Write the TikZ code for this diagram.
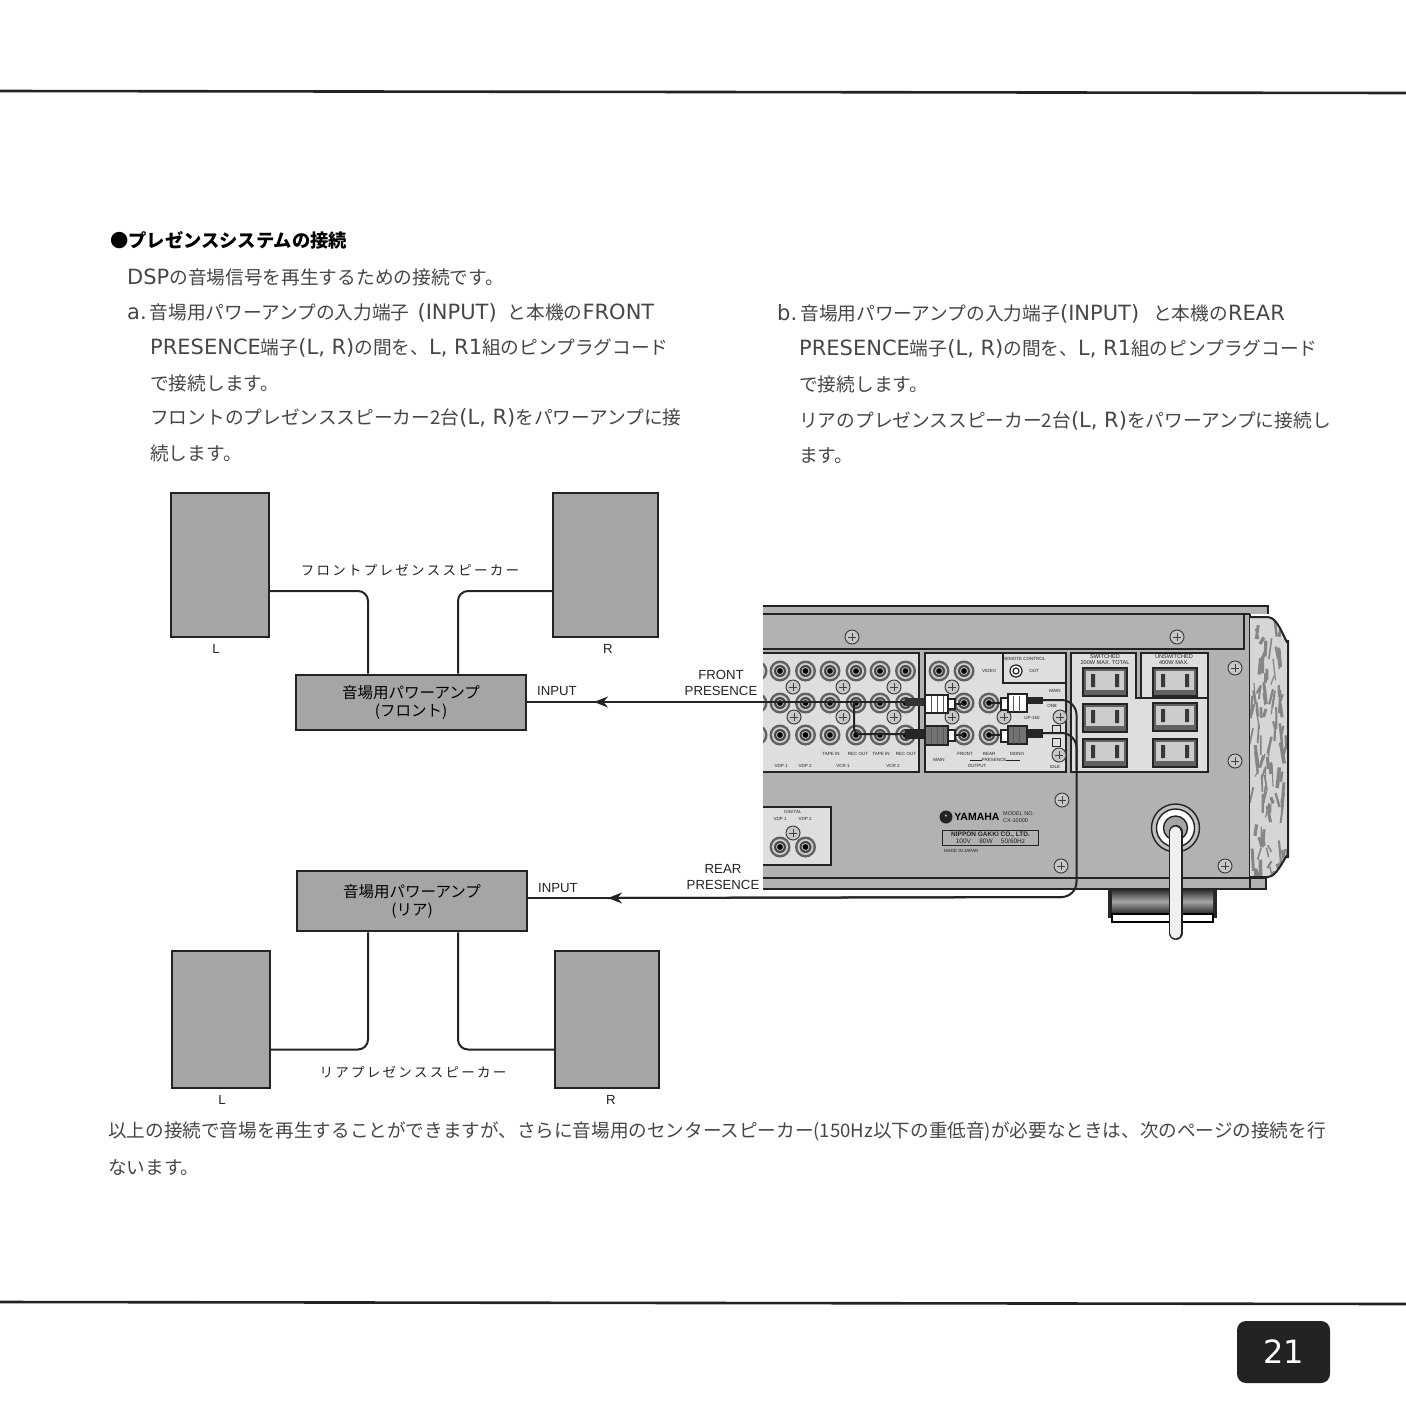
\documentclass[tikz,border=0pt]{standalone}
\usepackage{fontspec}
\setmainfont{Noto Sans CJK JP}
\setsansfont{Liberation Sans}
\newfontfamily\latfont{DejaVu Sans}
\newcommand{\lat}[1]{{\latfont\fontsize{21}{21}\selectfont #1}}
\usepackage{tikz}
\usetikzlibrary{
  arrows.meta,
  positioning,
  calc
}
\definecolor{inkgray}{RGB}{70,70,70}
\definecolor{boxgray}{RGB}{165,165,165}
\definecolor{bodygray}{RGB}{178,178,178}
\definecolor{panelgray}{RGB}{222,222,222}
\definecolor{inkdark}{RGB}{35,35,35}

\begin{document}
\begin{tikzpicture}[
  x=1pt, y=-1pt,
  bodytext/.style={anchor=west, inner sep=0pt, text=inkgray, font=\fontsize{18.7}{18.7}\selectfont},
  headtext/.style={anchor=west, inner sep=0pt, text=black, font=\bfseries\fontsize{18.3}{18.3}\selectfont},
  spk/.style={draw=inkdark, line width=2.4pt, fill=boxgray, inner sep=0pt},
  ampbox/.style={
    draw=inkdark, line width=2.8pt, fill=boxgray, inner sep=0pt,
    minimum width=230, align=center,
    font=\fontsize{15.5}{18}\selectfont
  },
  caption/.style={inner sep=0pt, text=inkdark, font=\fontsize{13.5}{13.5}\selectfont},
  sflabel/.style={inner sep=0pt, align=center, text=inkdark, font=\sffamily\fontsize{13.2}{16.5}\selectfont},
  tinylabel/.style={inner sep=0pt, align=center, text=inkdark, font=\sffamily\fontsize{4.5}{6}\selectfont},
  outletlabel/.style={inner sep=0pt, align=center, text=inkdark, font=\sffamily\fontsize{5.6}{6}\selectfont},
  wire/.style={line width=2pt, inkdark, rounded corners=10},
  arr/.style={-{Stealth[length=14pt, width=11pt]}, line width=2pt, inkdark},
  rule/.style={line width=2.6pt, inkdark},
  edge/.style={line width=1.4pt, inkdark},
  jack/.pic={
    \fill[black!62] (0,0) circle (10.5);
    \fill[black!20] (0,0) circle (8);
    \fill[black!72] (0,0) circle (6);
    \fill[black!30] (0,0) circle (4);
    \fill[black] (0,0) circle (2.8);
  },
  screw/.pic={
    \draw[line width=1pt, black!75, fill=black!22] (0,0) circle (7);
    \draw[line width=0.9pt, black!75] (-4,0) -- (4,0) (0,-4) -- (0,4);
  },
  outlet/.pic={
    \draw[line width=1.4pt, inkdark, fill=black!62] (-22,-14) rectangle (22,14);
    \fill[black!20] (-19,-11) rectangle (19,8);
    \fill[black!78] (-14,-8) rectangle (-10,5) (10,-8) rectangle (14,5);
  },
]
\useasboundingbox (0,0) rectangle (1406,1406);

% page rules and page number
\coordinate (ruleTL) at (0,91);
\coordinate (ruleTR) at (1406,93);
\coordinate (ruleBL) at (0,1302);
\coordinate (ruleBR) at (1406,1304);
\draw[rule] (ruleTL) -- (ruleTR);
\draw[rule] (ruleBL) -- (ruleBR);
\node[fill=inkdark, rounded corners=9pt, minimum width=93, minimum height=62, inner sep=0pt,
      text=white, font=\latfont\fontsize{32}{32}\selectfont] (pageno) at (1283.5,1352) {21};

% text
\node[headtext] (head) at (110,240) {●プレゼンスシステムの接続};
\node[bodytext] (intro) at (127,277) {\lat{DSP}の音場信号を再生するための接続です。};
\node[bodytext] (a1) at (127,313) {\lat{a.}\,音場用パワーアンプの入力端子\hspace{8pt}\lat{(INPUT)}\hspace{11pt}と本機の\lat{FRONT}};
\node[bodytext] (a2) at (150,348) {\lat{PRESENCE}端子\lat{(L, R)}の間を、\lat{L, R1}組のピンプラグコード};
\node[bodytext] (a3) at (150,383) {で接続します。};
\node[bodytext] (a4) at (150,418) {フロントのプレゼンススピーカー2台\lat{(L, R)}をパワーアンプに接};
\node[bodytext] (a5) at (150,453) {続します。};
\node[bodytext] (b1) at (777,314) {\lat{b.}\,音場用パワーアンプの入力端子\lat{(INPUT)}\hspace{14pt}と本機の\lat{REAR}};
\node[bodytext] (b2) at (799,349) {\lat{PRESENCE}端子\lat{(L, R)}の間を、\lat{L, R1}組のピンプラグコード};
\node[bodytext] (b3) at (799,384) {で接続します。};
\node[bodytext] (b4) at (799,421) {リアのプレゼンススピーカー2台\lat{(L, R)}をパワーアンプに接続し};
\node[bodytext] (b5) at (799,456) {ます。};
\node[bodytext, font=\fontsize{18.6}{18.6}\selectfont] (foot1) at (108,1131) {以上の接続で音場を再生することができますが、さらに音場用のセンタースピーカー(150Hz以下の重低音)が必要なときは、次のページの接続を行};
\node[bodytext, font=\fontsize{18.6}{18.6}\selectfont] (foot2) at (108,1168) {ないます。};

% speakers and amps
\node[spk, minimum width=98, minimum height=144] (spkFL) at (220,565) {};
\node[spk, minimum width=105, minimum height=144] (spkFR) at (605.5,565) {};
\node[spk, minimum width=98, minimum height=137] (spkRL) at (221,1019.5) {};
\node[spk, minimum width=104, minimum height=137] (spkRR) at (607,1019.5) {};
\node[ampbox, minimum height=55] (ampfront) at (411,702.5) {音場用パワーアンプ\\(フロント)};
\node[ampbox, minimum height=60] (amprear) at (412,901) {音場用パワーアンプ\\(リア)};

\node[caption] (capF) at (410,570) {フ\,ロ\,ン\,ト\,プ\,レ\,ゼ\,ン\,ス\,ス\,ピ\,ー\,カ\,ー};
\node[caption] (capR) at (413,1072) {リ\,ア\,プ\,レ\,ゼ\,ン\,ス\,ス\,ピ\,ー\,カ\,ー};
\node[sflabel] (lblFL) at (216,649) {L};
\node[sflabel] (lblFR) at (608,649) {R};
\node[sflabel] (lblRL) at (222,1100) {L};
\node[sflabel] (lblRR) at (611,1100) {R};
\node[sflabel] (inF) at (557,691) {INPUT};
\node[sflabel] (inR) at (558,888) {INPUT};
\node[sflabel] (outF) at (721,683) {FRONT\\PRESENCE};
\node[sflabel] (outR) at (723,877) {REAR\\PRESENCE};

\draw[wire] ([yshift=-26pt]spkFL.east) -| ([xshift=-43pt]ampfront.north);
\draw[wire] ([yshift=-26pt]spkFR.west) -| ([xshift=47pt]ampfront.north);
\draw[wire] ([yshift=-30pt]spkRL.east) -| ([xshift=-44pt]amprear.south);
\draw[wire] ([yshift=-30pt]spkRR.west) -| ([xshift=46pt]amprear.south);

% rear panel of the unit
\fill[black!85] (1108,885) rectangle (1217,918);
\shade[top color=black!85, bottom color=black!85, middle color=black!35] (1112,889) rectangle (1213,914);
\draw[line width=2pt, black, fill=white] (1112,914) rectangle (1213,922);
\fill[bodygray] (763,605) rectangle (1268,614);
\fill[bodygray] (763,614) rectangle (1250,878);
\fill[bodygray] (763,878) rectangle (1266,889);
\draw[edge] (763,606) -- (1268,606) -- (1268,614) (763,614) -- (1250,614);
\draw[edge] (763,649) -- (1244,649) -- (1244,614);
\draw[edge] (1250,614) -- (1250,889);
\draw[edge] (763,878) -- (1250,878);
\draw[line width=2pt, inkdark] (763,889) -- (1266,889) -- (1266,878) -- (1250,878);

% side panel
\begin{scope}
  \path[clip] (1250,617) -- (1268,617) to[out=0,in=-90] (1288,640) -- (1288,858) to[out=90,in=0] (1268,877) -- (1250,877) -- cycle;
  \fill[black!16] (1250,617) rectangle (1288,877);
  \pgfmathsetseed{21}
  \foreach \n in {1,...,110} {
    \pgfmathsetmacro{\sx}{1252+rnd*34}
    \pgfmathsetmacro{\sy}{617+rnd*255}
    \pgfmathsetmacro{\sl}{6+rnd*18}
    \pgfmathsetmacro{\sd}{-4+rnd*8}
    \pgfmathsetmacro{\sw}{1+rnd*2.5}
    \draw[line width=\sw pt, black!48] (\sx,\sy) -- ++(\sd,\sl);
  }
\end{scope}
\draw[line width=2pt, inkdark] (1250,617) -- (1268,617) to[out=0,in=-90] (1288,640) -- (1288,858) to[out=90,in=0] (1268,877) -- (1250,877);

% terminal panels
\draw[edge, fill=panelgray] (763,653) -- (919,653) -- (919,772) -- (763,772);
\draw[edge, fill=panelgray] (925,653) rectangle (1066,772);
\draw[edge, fill=panelgray] (1003,653) rectangle (1066,683);
\draw[edge, fill=panelgray] (1071,653) -- (1136,653) -- (1136,698) -- (1208,698) -- (1208,772) -- (1071,772) -- cycle;
\draw[edge, fill=panelgray] (1141,653) rectangle (1208,698);
\draw[edge, fill=panelgray] (763,807) -- (831,807) -- (831,865) -- (763,865);

\foreach \y in {671,703,735} {
  \foreach \x in {780,805.5,830,856,880,905.5} {
    \pic at (\x,\y) {jack};
  }
}
\foreach \y in {671,703,735} {
  \begin{scope}
    \clip (763,653) rectangle (780,772);
    \pic at (757,\y) {jack};
  \end{scope}
}
\foreach \x/\y in {939/671,964/671,964/703,964/735,989/703,989/735,780/847,805.5/847} {
  \pic at (\x,\y) {jack};
}
\foreach \x/\y in {793/687,843/687,894/687,794/717,843/717,894/717,952/687,952/717,1004/717,
                   1060/717,1059/755,793/833,852/637,1177/637,1235/668,1235/761,1062/800,1061/866,1225/866} {
  \pic at (\x,\y) {screw};
}
\foreach \x/\y in {1105/682,1105/718,1105/753,1175/682,1175/717,1175/753} {
  \pic at (\x,\y) {outlet};
}
\draw[line width=1.2pt, inkdark, fill=white] (1016,671) circle (6);
\draw[line width=1.2pt, inkdark] (1016,671) circle (3);
\draw[line width=1pt, inkdark, fill=panelgray] (1052,725) rectangle (1060,733) (1052,738) rectangle (1060,746);
\draw[line width=0.8pt, inkdark] (970,760) -- (982,760) (1006,760) -- (1020,760);

\foreach \x/\y/\t in {831/754/TAPE IN,858/754/REC OUT,881/754/TAPE IN,906/754/REC OUT,
                      781/766/VDP 1,805/766/VDP 2,843/766/VCR 1,893/766/VCR 2,
                      939/760/MAIN,965/754/FRONT,989/754/REAR,1017/754/MONO,994/760/PRESENCE,977/766/OUTPUT,
                      989/671/VIDEO,1024/659/REMOTE CONTROL,1034/671/OUT,1055/691/MAIN,1052/706/ON8,1032/718/UP-150,1055/767/IDLE,
                      793/812/DIGITAL,780/819/VDP 1,805/819/VDP 2} {
  \node[tinylabel] at (\x,\y) {\t};
}
\foreach \x/\y/\t in {1105/657/SWITCHED,1105/663/200W MAX. TOTAL,1174/657/UNSWITCHED,1174/663/400W MAX.} {
  \node[outletlabel] at (\x,\y) {\t};
}

% maker plate
\node[circle, fill=inkdark, minimum size=13, inner sep=0pt, text=white, font=\sffamily\fontsize{7}{7}\selectfont] (logo) at (946,817) {*};
\node[right=1.5pt of logo, inner sep=0pt, text=black, font=\sffamily\bfseries\fontsize{10.5}{10.5}\selectfont] (brand) {YAMAHA};
\node[inner sep=0pt, anchor=west, align=left, text=inkdark, font=\sffamily\fontsize{5.5}{6.2}\selectfont] (model) at (1003,817) {MODEL NO.\\CX-10000};
\node[draw=inkdark, line width=1pt, inner sep=1.2pt, minimum width=96, align=center, text=inkdark, font=\sffamily\fontsize{6.5}{7.5}\selectfont] (plate) at (990.5,838) {\textbf{NIPPON GAKKI CO., LTD.}\\100V \quad 80W \quad 50/60Hz};
\node[tinylabel, anchor=north west] (origin) at (944,849) {MADE IN JAPAN};

% power cord
\draw[line width=1.4pt, inkdark, fill=black!25] (1175.5,828) circle (24);
\draw[line width=1.4pt, inkdark, fill=white] (1175.5,828) circle (19);
\draw[line width=1.4pt, inkdark, fill=black!35] (1175.5,828) circle (12);
\draw[line width=14pt, inkdark, line cap=round] (1175.5,832) -- (1175.5,933);
\draw[line width=11pt, black!6, line cap=round] (1175.5,832) -- (1175.5,933);

% plugs on the output jacks
\coordinate (tapFront) at (905,702);
\coordinate (tapFrontB) at (905,734);
\coordinate (plugL) at (1043,700);
\coordinate (plugR) at (1043,733);
\coordinate (bendR) at (1076.5,897);
\fill[black!80] (905,698) rectangle (925,706);
\draw[line width=1.2pt, inkdark, fill=white] (925,695) rectangle (948,713);
\draw[line width=1.2pt, inkdark, fill=white] (948,699) rectangle (955,709);
\draw[line width=2pt, inkdark] (955,704) -- (964,704);
\fill[black!85] (905,729) rectangle (925,739);
\draw[line width=1.2pt, inkdark, fill=black!55] (925,726) rectangle (948,745);
\draw[line width=1.2pt, inkdark, fill=white] (948,730) rectangle (955,741);
\draw[line width=2pt, inkdark] (955,735) -- (964,735);
\draw[line width=2pt, inkdark] (991,703) -- (1001,703);
\draw[line width=1.2pt, inkdark, fill=white] (1001,698) rectangle (1008,710);
\draw[line width=1.2pt, inkdark, fill=white] (1008,694) rectangle (1027,712);
\fill[black!85] (1027,697) rectangle (1043,704);
\draw[line width=2pt, inkdark] (991,735) -- (1001,735);
\draw[line width=1.2pt, inkdark, fill=white] (1001,730) rectangle (1008,742);
\draw[line width=1.2pt, inkdark, fill=black!55] (1008,726) rectangle (1027,744);
\fill[black!85] (1027,729) rectangle (1043,738);
\foreach \x in {931,937,943,1013,1019} {
  \draw[line width=0.8pt, black!65] (\x,696) -- (\x,712) (\x,727) -- (\x,744);
}

% cables
\coordinate (arrF) at (594,702);
\coordinate (arrR) at (608,898);
\coordinate (branchF) at (854,702);
\draw[wire] (tapFront) -- (arrF);
\draw[arr] (branchF) -- (arrF);
\draw[wire] (arrF) -- (ampfront.east |- arrF);
\draw[wire, rounded corners=6] (branchF) -- (854,734) -- (tapFrontB);
\draw[wire, rounded corners=15] (plugL) -- (1076.5,700) -- (bendR) -- (arrR);
\draw[arr] (bendR) ++(-14,0) -- (arrR);
\draw[wire, rounded corners=15] (plugR) -- (1076.5,733) -- (1076.5,770);
\draw[wire] (arrR) -- (amprear.east |- arrR);

\end{tikzpicture}
\end{document}
